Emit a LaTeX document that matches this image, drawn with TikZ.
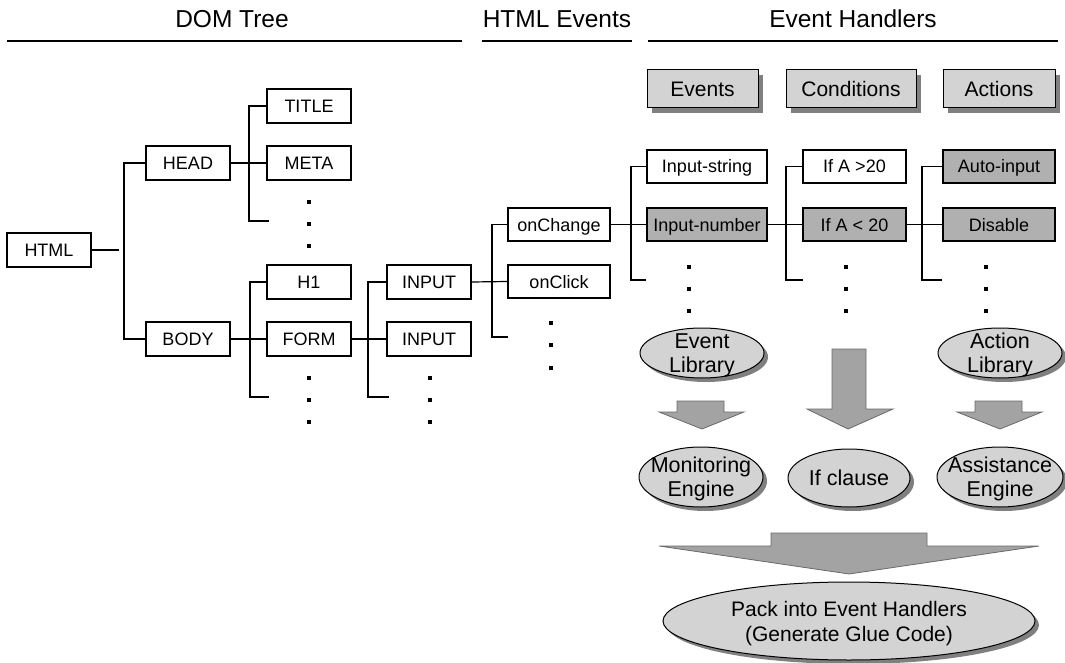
\documentclass[tikz,border=0pt]{standalone}
\usepackage{fontspec}
\setmainfont{Liberation Sans}
\usetikzlibrary{shapes.geometric,shadows}
\definecolor{lightfill}{HTML}{D3D3D3}
\definecolor{midfill}{HTML}{B0B0B0}
\definecolor{arrowfill}{HTML}{A3A3A3}
\definecolor{shadowgray}{HTML}{808080}
\definecolor{arrowline}{HTML}{6A6A6A}
\newcommand{\elltext}[2]{\raisebox{#1}[0pt][0pt]{\begin{tabular}[t]{@{}c@{}}#2\end{tabular}}}
\begin{document}
\begin{tikzpicture}[x=1pt,y=-1pt,
  tbox/.style={draw,line width=1.2pt,rectangle,inner sep=0pt,minimum height=34pt,
    font=\fontsize{18}{20}\selectfont,text height=13pt,text depth=0pt},
  gbox/.style={tbox,fill=midfill},
  hbox/.style={draw,line width=1pt,rectangle,inner sep=0pt,minimum height=38pt,fill=lightfill,
    font=\fontsize{21}{24}\selectfont,text height=15pt,text depth=0pt,
    drop shadow={shadow xshift=5pt,shadow yshift=-5pt,fill=shadowgray,opacity=1}},
  ell/.style={ellipse,draw,line width=1pt,fill=lightfill,inner sep=-16pt,
    font=\fontsize{21.5}{24}\selectfont,
    drop shadow={shadow xshift=4pt,shadow yshift=-4pt,fill=shadowgray,opacity=1}},
  conn/.style={line width=1.2pt},
  hdr/.style={font=\fontsize{24.5}{27}\selectfont,anchor=base,inner sep=0pt},
  hline/.style={line width=1.3pt},
  bigarrow/.style={fill=arrowfill,draw=arrowline,line width=0.8pt,line join=miter}
]
\useasboundingbox (0,0) rectangle (1065,663);

% headers
\node[hdr] (hdom) at (232,28) {DOM Tree};
\node[hdr] (hevt) at (557,28) {HTML Events};
\node[hdr] (hhnd) at (853,28) {Event Handlers};
\draw[hline] (7,41) -- (462,41);
\draw[hline] (482,41) -- (632,41);
\draw[hline] (648,41) -- (1058,41);

% DOM tree nodes
\node[tbox,minimum width=84pt] (html) at (49,250) {HTML};
\node[tbox,minimum width=84pt] (head) at (188,163) {HEAD};
\node[tbox,minimum width=84pt] (body) at (188,339) {BODY};
\node[tbox,minimum width=84pt] (title) at (309,106) {TITLE};
\node[tbox,minimum width=84pt] (meta) at (309,163) {META};
\node[tbox,minimum width=84pt] (h1) at (309,282) {H1};
\node[tbox,minimum width=84pt] (form) at (309,339) {FORM};
\node[tbox,minimum width=84pt] (inA) at (429,282) {INPUT};
\node[tbox,minimum width=84pt] (inB) at (429,339) {INPUT};

% HTML events
\node[tbox,minimum width=102pt,minimum height=33pt] (onchange) at (559,224.5) {onChange};
\node[tbox,minimum width=102pt,minimum height=33pt] (onclick) at (559,281.5) {onClick};

% Event handlers
\node[hbox,minimum width=111pt] (hev) at (702.5,89) {Events};
\node[hbox,minimum width=130pt] (hco) at (851,89) {Conditions};
\node[hbox,minimum width=112pt] (hac) at (999,89) {Actions};

\node[tbox,minimum width=120pt,minimum height=33pt] (istr) at (707,166.5) {Input-string};
\node[gbox,minimum width=120pt,minimum height=33pt] (inum) at (707,224.5) {Input-number};
\node[tbox,minimum width=103pt,minimum height=33pt] (gtA) at (854.5,166.5) {If A >20};
\node[gbox,minimum width=103pt,minimum height=33pt] (ltA) at (854.5,224.5) {If A < 20};
\node[gbox,minimum width=112pt,minimum height=33pt] (auto) at (999,166.5) {Auto-input};
\node[gbox,minimum width=112pt,minimum height=33pt] (disable) at (999,224.5) {Disable};

% junction coordinates
\coordinate (hx) at (119,250);
\coordinate (v1) at (124,0);
\coordinate (v2) at (249,0);
\coordinate (hb) at (269,221);
\coordinate (v3) at (250,0);
\coordinate (bb) at (269,397);
\coordinate (v4) at (368,0);
\coordinate (fb) at (389,397);
\coordinate (v5) at (492,0);
\coordinate (ib) at (508,337);
\coordinate (v6) at (631,0);
\coordinate (eb) at (646,280);
\coordinate (v7) at (786,0);
\coordinate (cb) at (803,280);
\coordinate (v8) at (922,0);
\coordinate (ab) at (942,280);

% connectors
\draw[conn] (html.east) -- (hx);
\draw[conn] (head.west) -- (head.west -| v1) -- (body.west -| v1) -- (body.west);
\draw[conn] (title.west) -- (title.west -| v2) -- (v2 |- hb) -- (hb);
\draw[conn] (head.east) -- (meta.west);
\draw[conn] (h1.west) -- (h1.west -| v3) -- (v3 |- bb) -- (bb);
\draw[conn] (body.east) -- (form.west);
\draw[conn] (inA.west) -- (inA.west -| v4) -- (v4 |- fb) -- (fb);
\draw[conn] (form.east) -- (inB.west);
\draw[conn] (onchange.west) -- (onchange.west -| v5) -- (v5 |- ib) -- (ib);
\draw[conn] (inA.east) -- (onclick.west);
\draw[conn] (istr.west) -- (istr.west -| v6) -- (v6 |- eb) -- (eb);
\draw[conn] (onchange.east) -- (inum.west);
\draw[conn] (gtA.west) -- (gtA.west -| v7) -- (v7 |- cb) -- (cb);
\draw[conn] (inum.east) -- (ltA.west);
\draw[conn] (auto.west) -- (auto.west -| v8) -- (v8 |- ab) -- (ab);
\draw[conn] (ltA.east) -- (disable.west);

% dots
\foreach \x/\y in {309/202,309/224,309/246, 309/378,309/400,309/422, 430/378,430/400,430/422,
  551/323,551/345,551/368, 689/267,689/289,689/311, 846/267,846/289,846/311, 986/267,986/289,986/311}
  \fill (\x-1.6,\y-1.6) rectangle ++(3.2,3.2);

% arrows
\filldraw[bigarrow] (677,401) -- (724,401) -- (724,412) -- (744,412) -- (702,429) -- (659,412) -- (677,412) -- cycle;
\filldraw[bigarrow] (832,349) -- (866,349) -- (866,409) -- (893,409) -- (848,429) -- (807,409) -- (832,409) -- cycle;
\filldraw[bigarrow] (975,401) -- (1022,401) -- (1022,412) -- (1042,412) -- (1000,429) -- (957,412) -- (975,412) -- cycle;
\filldraw[bigarrow] (771,533) -- (927,533) -- (927,546) -- (1039,546) -- (849,574) -- (659,546) -- (771,546) -- cycle;

% ellipses
\node[ell,minimum width=124pt,minimum height=50pt] (evlib) at (702,353) {\elltext{4.3pt}{Event\\Library}};
\node[ell,minimum width=124pt,minimum height=50pt] (aclib) at (1000,353) {\elltext{4.3pt}{Action\\Library}};
\node[ell,minimum width=124pt,minimum height=60pt] (mon) at (701,477) {\elltext{4.3pt}{Monitoring\\Engine}};
\node[ell,minimum width=122pt,minimum height=58pt] (ifc) at (849,478) {\elltext{-7.7pt}{If clause}};
\node[ell,minimum width=126pt,minimum height=60pt] (assist) at (1000,477) {\elltext{4.3pt}{Assistance\\Engine}};
\node[ell,minimum width=372pt,minimum height=78pt,font=\fontsize{21}{25}\selectfont] (pack) at (849,621) {\elltext{5pt}{Pack into Event Handlers\\(Generate Glue Code)}};
\end{tikzpicture}
\end{document}
